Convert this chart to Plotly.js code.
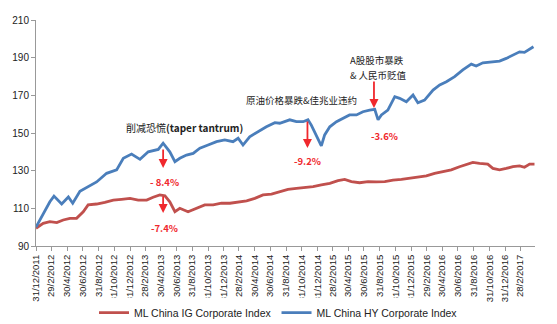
<!DOCTYPE html>
<html>
<head>
<meta charset="utf-8">
<script src="https://cdn.plot.ly/plotly-3.0.1.min.js"></script>
<style>html,body{margin:0;padding:0;background:#fff;}#chart{width:557px;height:324px;}</style>
</head>
<body>
<div id="chart"></div>
<script>
// ML China HY Corporate Index (blue)
const hyDates = ['2011-12-31','2012-01-15','2012-02-11','2012-02-23','2012-03-10','2012-04-09','2012-05-05','2012-05-22','2012-06-19','2012-07-21','2012-08-23','2012-10-01','2012-11-09','2012-12-05','2013-01-06','2013-02-08','2013-03-12','2013-04-20','2013-05-09','2013-06-04','2013-06-24','2013-07-13','2013-08-08','2013-09-03','2013-09-29','2013-10-31','2013-12-03','2014-01-04','2014-02-05','2014-02-25','2014-03-16','2014-04-11','2014-05-14','2014-06-15','2014-07-18','2014-08-06','2014-09-14','2014-10-10','2014-11-05','2014-11-24','2014-12-07','2014-12-20','2015-01-02','2015-01-15','2015-01-28','2015-02-17','2015-03-15','2015-04-09','2015-05-05','2015-06-01','2015-06-26','2015-07-22','2015-08-11','2015-08-24','2015-09-06','2015-10-01','2015-10-28','2015-11-16','2015-12-12','2016-01-07','2016-01-26','2016-02-21','2016-03-25','2016-04-20','2016-05-16','2016-06-17','2016-07-19','2016-08-21','2016-09-09','2016-10-05','2016-11-07','2016-12-09','2017-01-04','2017-01-30','2017-02-25','2017-03-16','2017-04-20'];
const hyValues = [100,103.8,111,113.5,116.5,112.3,116,112.7,119,121.5,124,128.6,130.4,136.6,138.8,136,140,141.3,144.6,140,134.8,136.6,138.3,139.2,141.9,143.6,145.4,146.3,145.4,147.2,143.6,148,150.7,153.3,155.5,155.2,157,156,156,157,154.2,150.7,147.2,143.2,149,153.3,156,157.8,159.6,159.6,161.3,162.2,162.6,157,159.6,162.2,169.3,168.4,166.6,170.2,166.1,167.5,172.8,175.5,177.2,179.9,183.5,186.6,185.6,187.3,187.9,188.2,189.6,191.4,193.1,192.8,195.8];

// ML China IG Corporate Index (red)
const igDates = ['2011-12-31','2012-01-28','2012-02-23','2012-03-21','2012-04-15','2012-05-11','2012-06-06','2012-07-02','2012-07-21','2012-08-23','2012-09-24','2012-10-27','2012-11-28','2012-12-31','2013-02-01','2013-03-06','2013-03-31','2013-04-26','2013-05-16','2013-06-04','2013-06-24','2013-07-13','2013-08-14','2013-09-16','2013-10-18','2013-11-20','2013-12-22','2014-01-24','2014-02-25','2014-03-30','2014-05-01','2014-06-02','2014-07-05','2014-08-06','2014-09-07','2014-10-10','2014-11-11','2014-12-14','2015-01-15','2015-02-17','2015-03-21','2015-04-16','2015-05-12','2015-06-13','2015-07-16','2015-08-17','2015-09-19','2015-10-21','2015-11-23','2015-12-25','2016-01-26','2016-02-28','2016-03-31','2016-05-02','2016-06-04','2016-07-06','2016-08-08','2016-08-27','2016-09-22','2016-10-24','2016-11-13','2016-12-09','2017-01-04','2017-01-30','2017-02-25','2017-03-16','2017-04-05','2017-04-24'];
const igValues = [99.4,102,102.9,102.4,103.8,104.7,104.7,108.2,111.8,112.3,113.2,114.4,114.8,115.3,114.4,114.4,115.9,117.1,116.6,113.5,108.2,110,108.2,110,111.8,111.8,112.7,112.7,113.5,114,115.3,117.1,117.6,118.8,120.1,120.6,121.1,121.5,122.4,123.3,124.7,125.4,124.2,123.6,124.2,124,124.2,125,125.4,126,126.8,127.2,128.6,129.5,130.4,132.1,133.5,134.4,133.9,133.5,131.2,130.4,131.2,132.1,132.5,131.8,133.5,133.5];

// x-axis tick labels (d/m/yyyy)
const tickLabels = ['31/12/2011','29/2/2012','30/4/2012','30/6/2012','31/8/2012','31/10/2012','31/12/2012','28/2/2013','30/4/2013','30/6/2013','31/8/2013','31/10/2013','31/12/2013','28/2/2014','30/4/2014','30/6/2014','31/8/2014','31/10/2014','31/12/2014','28/2/2015','30/4/2015','30/6/2015','31/8/2015','31/10/2015','31/12/2015','29/2/2016','30/4/2016','30/6/2016','31/8/2016','31/10/2016','31/12/2016','28/2/2017'];
const yTicks = [90,110,130,150,170,190,210];

const tickVals = tickLabels.map(s => {
  const [d, m, y] = s.split('/');
  return y + '-' + m.padStart(2,'0') + '-' + d.padStart(2,'0');
});

const RED = '#c0504d', BLUE = '#4a7ebb', ALERT = '#f0282d';
const traces = [
  {x: igDates, y: igValues, type: 'scatter', mode: 'lines', name: 'ML China IG Corporate Index',
   line: {color: RED, width: 2.8}},
  {x: hyDates, y: hyValues, type: 'scatter', mode: 'lines', name: 'ML China HY Corporate Index',
   line: {color: BLUE, width: 2.8}}
];

const cjk = '"Noto Sans CJK SC", "Liberation Sans", sans-serif';
function arrow(x, y, ay) {
  return {x: x, y: y, xref: 'x', yref: 'y', text: '', showarrow: true, ax: 0, ay: ay,
          arrowhead: 2, arrowsize: 1, arrowwidth: 1.8, arrowcolor: ALERT};
}
function label(x, y, text, color, size, anchor) {
  return {x: x, y: y, xref: 'x', yref: 'y', text: text, showarrow: false,
          xanchor: anchor || 'center', yanchor: 'middle', align: 'left',
          font: {family: cjk, size: size, color: color}};
}

const annotations = [
  label('2013-08-02', 152.7, '削减恐慌<b>(taper tantrum)</b>', '#222', 10),
  arrow('2013-05-09', 131.4, -20),
  label('2013-05-16', 124.1, '<b>- 8.4%</b>', ALERT, 9.5),
  arrow('2013-05-09', 107.5, -18),
  label('2013-05-16', 99.7, '<b>-7.4%</b>', ALERT, 9.5),
  label('2014-10-31', 167.5, '原油价格暴跌&佳兆业违约', '#222', 9.5),
  arrow('2014-11-22', 142, -28),
  label('2014-11-23', 135.1, '<b>-9.2%</b>', ALERT, 9.5),
  label('2015-04-28', 188.8, 'A股股市暴跌', '#222', 9.5, 'left'),
  label('2015-04-28', 181.0, '&amp; 人民币贬值', '#222', 9.5, 'left'),
  arrow('2015-08-08', 163.3, -28),
  label('2015-09-19', 148.4, '<b>-3.6%</b>', ALERT, 9.5)
];

const layout = {
  width: 557, height: 324,
  margin: {l: 36, r: 22, t: 20, b: 78, autoexpand: false},
  paper_bgcolor: '#fff', plot_bgcolor: '#fff',
  font: {family: '"Liberation Sans", sans-serif', size: 10, color: '#222'},
  showlegend: true,
  legend: {orientation: 'h', x: 0.5, xanchor: 'center', xref: 'container',
           y: 0.035, yanchor: 'middle', yref: 'container',
           font: {family: '"Liberation Sans", sans-serif', size: 10.5, color: '#222'},
           itemwidth: 30, tracegroupgap: 0},
  xaxis: {type: 'date', range: ['2011-12-31', '2017-04-26'], automargin: false,
          tickmode: 'array', tickvals: tickVals, ticktext: tickLabels,
          tickangle: -90, ticks: 'outside', ticklen: 4, tickcolor: '#999',
          showline: true, linecolor: '#999', linewidth: 1, showgrid: false, zeroline: false,
          tickfont: {size: 9.5, color: '#222'}},
  yaxis: {range: [90, 210], tickmode: 'array', tickvals: yTicks, automargin: false,
          ticks: 'outside', ticklen: 4, tickcolor: '#999',
          showline: true, linecolor: '#999', linewidth: 1, showgrid: false, zeroline: false,
          tickfont: {size: 10, color: '#222'}},
  annotations: annotations
};

Plotly.newPlot('chart', traces, layout, {displayModeBar: false, staticPlot: true});
</script>
</body>
</html>
